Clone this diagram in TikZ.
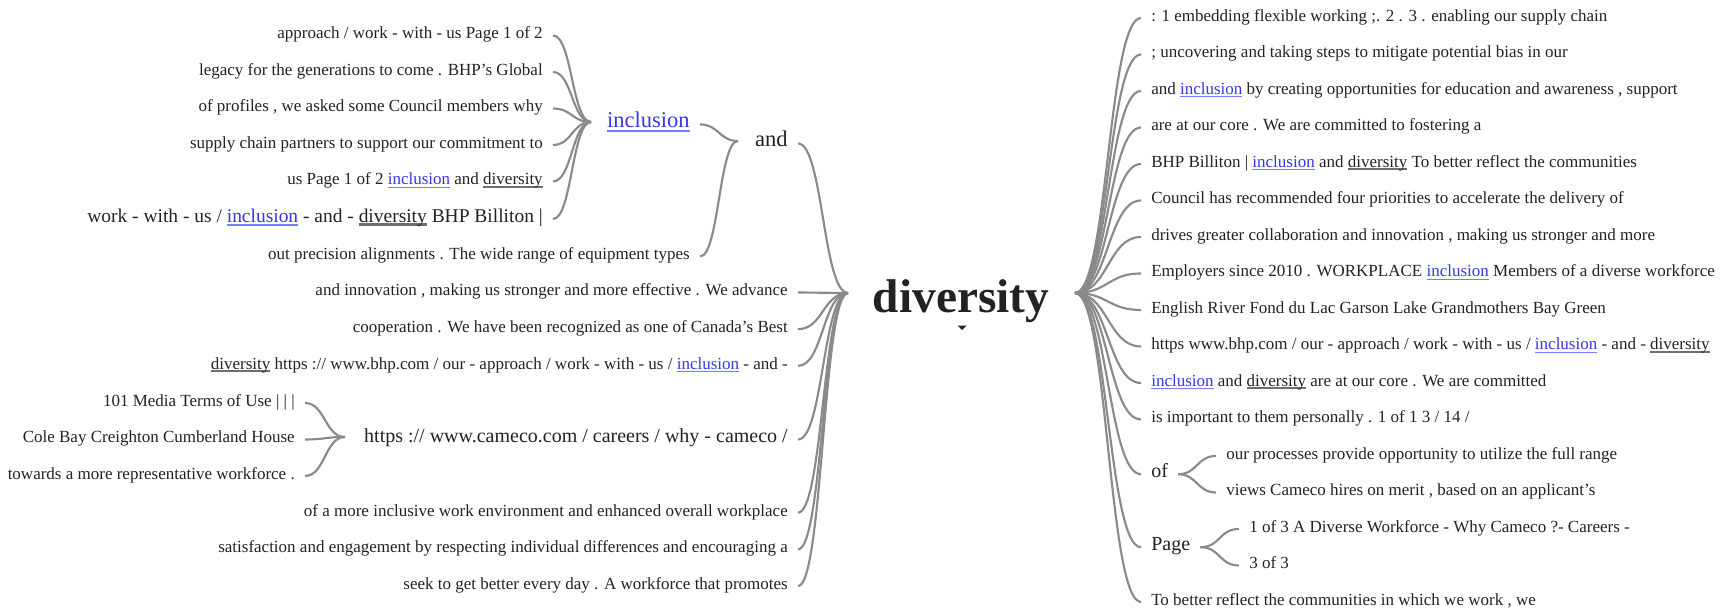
\documentclass[tikz,border=0pt]{standalone}
\usepackage{fontspec}
\setmainfont{Liberation Serif}
\definecolor{txt}{HTML}{222222}
\definecolor{lnkc}{HTML}{8A8A8A}
\definecolor{blu}{HTML}{3636F0}
\definecolor{bluul}{HTML}{7A7AFF}
\definecolor{dul}{HTML}{6E6E6E}
\newcommand\myul[3]{{\setbox0\hbox{#3}\rlap{\textcolor{#1}{\rule[-0.17em]{\wd0}{#2}}}\box0}}
\newcommand\incl{\myul{bluul}{0.07em}{\textcolor{blu}{inclusion}}}
\newcommand\dvs{\myul{dul}{0.11em}{diversity}}
\tikzset{
  wl/.style={anchor=east, inner xsep=7.5pt, inner ysep=0pt, text height=0.55em, text depth=0.05em,
    font=\fontsize{12.75pt}{14pt}\selectfont, text=txt},
  wr/.style={wl, anchor=west},
  bigA/.style={font=\fontsize{14.6pt}{16pt}\selectfont},
  bigB/.style={font=\fontsize{15pt}{17pt}\selectfont},
  bigC/.style={font=\fontsize{16.9pt}{19pt}\selectfont},
  lnk/.style={draw=lnkc, line width=1.6pt},
}
\begin{document}
\begin{tikzpicture}[x=0.75pt,y=-0.75pt]
\useasboundingbox (0,0) rectangle (1734,611);
% root
\node[font=\bfseries\fontsize{35.5pt}{37pt}\selectfont, text=txt, anchor=base, inner sep=0pt] (root) at (961,312) {diversity};
\fill[txt] (957.5,325.5) -- (966.5,325.5) -- (962,330) -- cycle;
% convergence points
\coordinate (cI) at (591,122);
\coordinate (cA) at (738,141);
\coordinate (cL) at (848,293);
\coordinate (cR) at (1075,293);
\coordinate (cC) at (345,437);
\begin{scope}[yshift=-2.6pt]
% left: inclusion group
\node[wl] (a1) at (553,32) {approach / work - with - us Page 1 of 2};
\node[wl] (a2) at (553,68.5) {legacy for the generations to come . BHP’s Global};
\node[wl] (a3) at (553,105) {of profiles , we asked some Council members why};
\node[wl] (a4) at (553,141.5) {supply chain partners to support our commitment to};
\node[wl] (a5) at (553,178) {us Page 1 of 2 \incl{} and \dvs{}};
\node[wl,bigA] (a6) at (553,215.5) {work - with - us / \incl{} - and - \dvs{} BHP Billiton |};
\node[wl,bigC] (inc) at (700,121) {\incl{}};
\node[wl] (b1) at (700,253) {out precision alignments . The wide range of equipment types};
\node[wl,bigC] (and) at (798,140) {and};
% left: children of root
\node[wl] (l7) at (798,289) {and innovation , making us stronger and more effective . We advance};
\node[wl] (l8) at (798,325.7) {cooperation . We have been recognized as one of Canada's Best};
\node[wl] (l9) at (798,362.4) {\dvs{} https :// www.bhp.com / our - approach / work - with - us / \incl{} - and -};
\node[wl,bigB] (cam) at (798,436) {https :// www.cameco.com / careers / why - cameco /};
\node[wl] (c1) at (305,399.5) {101 Media Terms of Use | | |};
\node[wl] (c2) at (305,436) {Cole Bay Creighton Cumberland House};
\node[wl] (c3) at (305,472.5) {towards a more representative workforce .};
\node[wl] (l13) at (798,509.2) {of a more inclusive work environment and enhanced overall workplace};
\node[wl] (l14) at (798,545.9) {satisfaction and engagement by respecting individual differences and encouraging a};
\node[wl] (l15) at (798,582.6) {seek to get better every day . A workforce that promotes};
% right
\node[wr] (r1) at (1141,14.5) {: 1 embedding flexible working ;. 2 . 3 . enabling our supply chain};
\node[wr] (r2) at (1141,51) {; uncovering and taking steps to mitigate potential bias in our};
\node[wr] (r3) at (1141,87.5) {and \incl{} by creating opportunities for education and awareness , support};
\node[wr] (r4) at (1141,124) {are at our core . We are committed to fostering a};
\node[wr] (r5) at (1141,160.5) {BHP Billiton | \incl{} and \dvs{} To better reflect the communities};
\node[wr] (r6) at (1141,197) {Council has recommended four priorities to accelerate the delivery of};
\node[wr] (r7) at (1141,233.5) {drives greater collaboration and innovation , making us stronger and more};
\node[wr] (r8) at (1141,270) {Employers since 2010 . WORKPLACE \incl{} Members of a diverse workforce};
\node[wr] (r9) at (1141,306.5) {English River Fond du Lac Garson Lake Grandmothers Bay Green};
\node[wr] (r10) at (1141,343) {https www.bhp.com / our - approach / work - with - us / \incl{} - and - \dvs{}};
\node[wr] (r11) at (1141,379.5) {\incl{} and \dvs{} are at our core . We are committed};
\node[wr] (r12) at (1141,416) {is important to them personally . 1 of 1 3 / 14 /};
\node[wr,bigB] (of) at (1141,470.75) {of};
\node[wr] (o1) at (1216,452.5) {our processes provide opportunity to utilize the full range};
\node[wr] (o2) at (1216,489) {views Cameco hires on merit , based on an applicant's};
\node[wr,bigB] (pg) at (1141,543.75) {Page};
\node[wr] (p1) at (1239,525.5) {1 of 3 A Diverse Workforce - Why Cameco ?- Careers -};
\node[wr] (p2) at (1239,562) {3 of 3};
\node[wr] (r15) at (1141,598.5) {To better reflect the communities in which we work , we};
\end{scope}
% connectors
\foreach \n in {a1,a2,a3,a4,a5,a6}
  \draw[lnk] (\n.east) .. controls +(19,0) and +(-19,0) .. (cI);
\foreach \n in {inc,b1}
  \draw[lnk] (\n.east) .. controls +(19,0) and +(-19,0) .. (cA);
\foreach \n in {and,l7,l8,l9,cam,l13,l14,l15}
  \draw[lnk] (\n.east) .. controls +(25,0) and +(-25,0) .. (cL);
\foreach \n in {c1,c2,c3}
  \draw[lnk] (\n.east) .. controls +(20,0) and +(-20,0) .. (cC);
\foreach \n in {r1,r2,r3,r4,r5,r6,r7,r8,r9,r10,r11,r12,of,pg,r15}
  \draw[lnk] (cR) .. controls +(33,0) and +(-33,0) .. (\n.west);
\foreach \n in {o1,o2}
  \draw[lnk] (of.east) .. controls +(19,0) and +(-19,0) .. (\n.west);
\foreach \n in {p1,p2}
  \draw[lnk] (pg.east) .. controls +(20,0) and +(-20,0) .. (\n.west);
\end{tikzpicture}
\end{document}
